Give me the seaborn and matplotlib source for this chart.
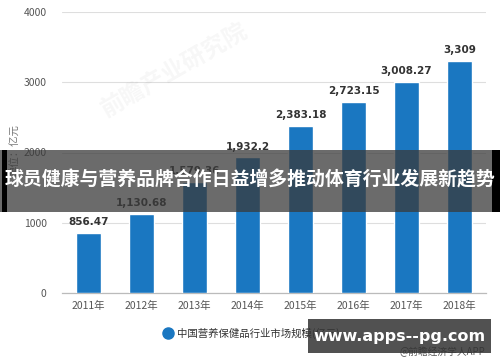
import matplotlib
matplotlib.use("Agg")
import matplotlib.pyplot as plt
import seaborn as sns
import pandas as pd
from matplotlib.lines import Line2D
from matplotlib.patches import Rectangle

years = ["2011年", "2012年", "2013年", "2014年", "2015年", "2016年", "2017年", "2018年"]
values = [856.47, 1130.68, 1579.36, 1932.2, 2383.18, 2723.15, 3008.27, 3309]
value_labels = ["856.47", "1,130.68", "1,579.36", "1,932.2", "2,383.18", "2,723.15", "3,008.27", "3,309"]
y_ticks = [0, 1000, 2000, 3000, 4000]
series_name = "中国营养保健品行业市场规模(亿元)"
y_label = "单位：亿元"
banner_text = "球员健康与营养品牌合作日益增多推动体育行业发展新趋势"
site_text = "www.apps--pg.com"
source_text = "@前瞻经济学人APP"
watermark_text = "前瞻产业研究院"

sns.set_theme(style="white")
plt.rcParams["font.family"] = ["Noto Sans CJK SC", "DejaVu Sans"]

df = pd.DataFrame({"year": years, "value": values})

fig = plt.figure(figsize=(5, 3.62), dpi=100)
ax = fig.add_axes([62/500, 1-293/362, (486-62)/500, (293-12)/362])

bar_color = "#1a77c1"
sns.barplot(data=df, x="year", y="value", color=bar_color, width=0.46,
            saturation=1, ax=ax, zorder=3)

ax.set_ylim(0, 4000)
ax.set_yticks(y_ticks)
ax.set_yticklabels([str(t) for t in y_ticks])
ax.grid(axis="y", color="#dedede", linewidth=0.8, zorder=0)
ax.set_axisbelow(True)
for s in ["left", "right", "top"]:
    ax.spines[s].set_visible(False)
ax.spines["bottom"].set_color("#bbbbbb")
ax.spines["bottom"].set_linewidth(0.9)
ax.tick_params(axis="y", length=9, width=0.8, color="#dedede", labelsize=7.5,
               labelcolor="#555555", pad=2)
ax.tick_params(axis="x", length=0, labelsize=7.5, labelcolor="#555555", pad=6)
ax.set_xlabel("")
ax.set_ylabel("")

for container in ax.containers:
    ax.bar_label(container, labels=value_labels, padding=4, fontsize=7.5,
                 fontweight="bold", color="#333333", family="DejaVu Sans")

# y-axis unit label
fig.text(15/500, 1-150/362, y_label, rotation=90, ha="center", va="center",
         fontsize=7.5, color="#777777")

# legend
leg_handle = Line2D([0], [0], marker="o", color="none", markerfacecolor=bar_color,
                    markeredgecolor=bar_color, markersize=8)
fig.legend([leg_handle], [series_name], loc="center left",
           bbox_to_anchor=(152/500, 1-333/362), frameon=False, fontsize=7.5,
           handletextpad=0.3, handlelength=1.2, labelcolor="#333333")

# faint watermark
fig.text(175/500, 1-70/362, watermark_text, rotation=30, ha="center", va="center",
         fontsize=17, color="#000000", alpha=0.035, fontweight="bold")

# banner
fig.add_artist(Rectangle((0, 1-212/362), 1, 62/362, transform=fig.transFigure,
                         facecolor="#3a3a3a", alpha=0.75, edgecolor="none", zorder=10))
fig.add_artist(Rectangle((2/500, 1-212/362), 5/500, 62/362, transform=fig.transFigure,
                         facecolor="#000000", edgecolor="none", zorder=11))
fig.add_artist(Rectangle((492/500, 1-212/362), 8/500, 62/362, transform=fig.transFigure,
                         facecolor="#000000", edgecolor="none", zorder=11))
fig.text(0.5, 1-180/362, banner_text, ha="center", va="center", fontsize=13.6,
         color="white", fontweight="bold", zorder=12)

# source
fig.text(485/500, 1-352/362, source_text, ha="right", va="center", fontsize=7,
         color="#555555", zorder=9)

# site box
fig.add_artist(Rectangle((308/500, 1-353/362), 183/500, 34/362, transform=fig.transFigure,
                         facecolor="#333333", alpha=0.85, edgecolor="none", zorder=13))
fig.text(399/500, 1-336/362, site_text, ha="center", va="center", fontsize=11.5,
         color="white", fontweight="bold", family="DejaVu Sans", zorder=14)

fig.savefig("out.png", dpi=100)
